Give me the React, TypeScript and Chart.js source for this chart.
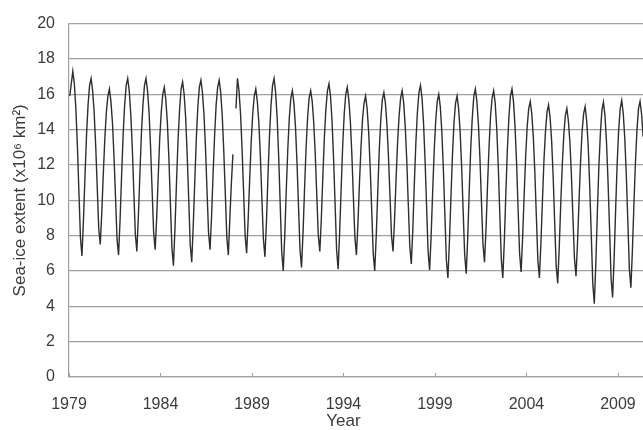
import { useEffect, useRef } from "react";
import { Chart, registerables } from "chart.js";

Chart.register(...registerables);

// Axis setup
const START_YEAR = 1979;
const X_MIN = 1979;
const X_MAX = 2010.37;
const YEAR_TICKS = [1979, 1984, 1989, 1994, 1999, 2004, 2009];
const Y_MIN = 0;
const Y_MAX = 20;
const Y_STEP = 2;
const X_TITLE = "Year";
const Y_TITLE = "Sea-ice extent (x10\u2076 km\u00B2)";

// Monthly Arctic sea-ice extent (10^6 km²), January–December for each year.
// null marks the missing month between the two satellite records.
const MONTHLY_EXTENT: (number | null)[] = [
  /* 1979 */ 15.9, 16.6, 17.3, 16.6, 15.2, 13.1, 10.5, 7.9, 6.85, 8.9, 11.4, 13.7,
  /* 1980 */ 15.4, 16.5, 16.9, 16.2, 15.0, 13.1, 10.8, 8.4, 7.5, 9.3, 11.5, 13.5,
  /* 1981 */ 15.0, 15.9, 16.3, 15.6, 14.4, 12.5, 10.2, 7.8, 6.9, 8.9, 11.4, 13.7,
  /* 1982 */ 15.4, 16.5, 16.9, 16.2, 14.9, 13.0, 10.5, 8.1, 7.1, 9.1, 11.5, 13.8,
  /* 1983 */ 15.4, 16.5, 16.9, 16.2, 15.0, 13.0, 10.6, 8.2, 7.2, 9.0, 11.3, 13.5,
  /* 1984 */ 15.0, 16.0, 16.4, 15.7, 14.4, 12.4, 9.8, 7.3, 6.3, 8.4, 11.0, 13.4,
  /* 1985 */ 15.1, 16.3, 16.7, 16.0, 14.7, 12.6, 10.1, 7.5, 6.5, 8.6, 11.1, 13.5,
  /* 1986 */ 15.3, 16.4, 16.8, 16.1, 14.9, 13.0, 10.6, 8.2, 7.2, 9.1, 11.5, 13.7,
  /* 1987 */ 15.4, 16.4, 16.8, 16.1, 14.8, 12.8, 10.4, 7.9, 6.9, 9.0, 11.0, 12.6,
  /* 1988 */ null, 15.2, 16.9, 16.2, 14.9, 12.9, 10.5, 8.0, 7.0, 8.9, 11.2, 13.3,
  /* 1989 */ 14.9, 15.9, 16.3, 15.6, 14.4, 12.5, 10.1, 7.8, 6.8, 8.8, 11.4, 13.7,
  /* 1990 */ 15.4, 16.5, 16.9, 16.1, 14.7, 12.5, 9.8, 7.1, 6.0, 8.0, 10.6, 12.9,
  /* 1991 */ 14.7, 15.8, 16.2, 15.5, 14.2, 12.2, 9.7, 7.2, 6.2, 8.2, 10.7, 13.0,
  /* 1992 */ 14.7, 15.8, 16.2, 15.6, 14.4, 12.6, 10.3, 8.0, 7.1, 9.0, 11.4, 13.6,
  /* 1993 */ 15.2, 16.2, 16.6, 15.9, 14.5, 12.4, 9.8, 7.2, 6.1, 8.2, 10.7, 13.1,
  /* 1994 */ 14.9, 16.0, 16.4, 15.7, 14.5, 12.6, 10.2, 7.9, 6.9, 8.7, 11.0, 13.0,
  /* 1995 */ 14.6, 15.5, 15.9, 15.2, 13.9, 11.9, 9.5, 7.0, 6.0, 8.0, 10.5, 12.9,
  /* 1996 */ 14.6, 15.7, 16.1, 15.5, 14.3, 12.5, 10.3, 8.0, 7.1, 8.9, 11.2, 13.3,
  /* 1997 */ 14.8, 15.8, 16.2, 15.5, 14.2, 12.3, 9.8, 7.4, 6.4, 8.4, 11.0, 13.3,
  /* 1998 */ 15.0, 16.1, 16.5, 15.8, 14.4, 12.3, 9.7, 7.1, 6.05, 8.0, 10.5, 12.8,
  /* 1999 */ 14.5, 15.6, 16.0, 15.3, 13.9, 11.8, 9.2, 6.6, 5.6, 7.7, 10.2, 12.6,
  /* 2000 */ 14.4, 15.5, 15.9, 15.2, 13.9, 11.9, 9.4, 6.9, 5.85, 7.9, 10.6, 13.0,
  /* 2001 */ 14.7, 15.9, 16.3, 15.6, 14.3, 12.4, 9.9, 7.5, 6.5, 8.4, 10.9, 13.1,
  /* 2002 */ 14.8, 15.8, 16.2, 15.5, 14.1, 12.0, 9.3, 6.7, 5.6, 7.7, 10.4, 12.9,
  /* 2003 */ 14.7, 15.9, 16.3, 15.6, 14.2, 12.2, 9.6, 7.0, 5.95, 7.9, 10.3, 12.5,
  /* 2004 */ 14.2, 15.2, 15.6, 14.9, 13.6, 11.6, 9.1, 6.6, 5.6, 7.6, 10.0, 12.3,
  /* 2005 */ 13.9, 15.0, 15.4, 14.7, 13.4, 11.4, 8.8, 6.3, 5.3, 7.3, 9.8, 12.0,
  /* 2006 */ 13.7, 14.8, 15.2, 14.5, 13.3, 11.4, 9.0, 6.7, 5.7, 7.6, 10.0, 12.2,
  /* 2007 */ 13.9, 14.9, 15.3, 14.5, 13.1, 10.8, 8.1, 5.3, 4.15, 6.4, 9.3, 11.9,
  /* 2008 */ 13.8, 15.1, 15.55, 14.8, 13.3, 11.1, 8.4, 5.6, 4.5, 6.7, 9.5, 12.1,
  /* 2009 */ 14.0, 15.2, 15.65, 14.9, 13.5, 11.4, 8.8, 6.1, 5.05, 7.2, 9.8, 12.2,
  /* 2010 */ 14.0, 15.2, 15.6, 14.9, 13.6, 11.7,
];

// Colours and fonts
const FONT_FAMILY = "'Liberation Sans', Arial, sans-serif";
const TEXT_COLOR = "#3c3c3c";
const GRID_COLOR = "#a0a0a0";
const LINE_COLOR = "#2e2e2e";

// Each monthly value is placed at the middle of its month.
const points = MONTHLY_EXTENT.map((v, i) => ({
  x: START_YEAR + i / 12 + 1 / 24,
  y: v,
}));

// Small upward tick marks on the year axis plus the axis title.
const yearAxisDecor = {
  id: "yearAxisDecor",
  afterDraw(chart: any) {
    const { ctx, chartArea, scales } = chart;
    const xs = scales.x;
    ctx.save();
    ctx.strokeStyle = GRID_COLOR;
    ctx.lineWidth = 1;
    for (const t of xs.ticks) {
      const px = Math.round(xs.getPixelForValue(t.value)) + 0.5;
      ctx.beginPath();
      ctx.moveTo(px, chartArea.bottom);
      ctx.lineTo(px, chartArea.bottom - 4);
      ctx.stroke();
    }
    ctx.fillStyle = TEXT_COLOR;
    ctx.font = `17px ${FONT_FAMILY}`;
    ctx.textAlign = "center";
    ctx.textBaseline = "alphabetic";
    ctx.fillText(X_TITLE, xs.getPixelForValue(1994), xs.bottom - 4);
    ctx.restore();
  },
};

export default function App() {
  const canvasRef = useRef<HTMLCanvasElement | null>(null);

  useEffect(() => {
    const canvas = canvasRef.current;
    if (!canvas) return;
    const chart = new Chart(canvas, {
      type: "line",
      data: {
        datasets: [
          {
            data: points as any,
            borderColor: LINE_COLOR,
            borderWidth: 1.4,
            pointRadius: 0,
            tension: 0,
            spanGaps: false,
            fill: false,
          },
        ],
      },
      options: {
        animation: false,
        responsive: false,
        devicePixelRatio: 1,
        layout: { padding: { top: 21, right: 0, bottom: 0, left: 0 } },
        plugins: {
          legend: { display: false },
          tooltip: { enabled: false },
        },
        scales: {
          x: {
            type: "linear",
            min: X_MIN,
            max: X_MAX,
            afterBuildTicks: (axis: any) => {
              axis.ticks = YEAR_TICKS.map((v) => ({ value: v }));
            },
            afterFit: (axis: any) => {
              axis.height = 53;
              axis.paddingLeft = 0;
              axis.paddingRight = 0;
            },
            grid: { display: false },
            border: { display: true, color: GRID_COLOR, width: 1.2 },
            ticks: {
              autoSkip: false,
              maxRotation: 0,
              padding: 10,
              color: TEXT_COLOR,
              font: { family: FONT_FAMILY, size: 16 },
              callback: (v: any) => String(v),
            },
          },
          y: {
            type: "linear",
            min: Y_MIN,
            max: Y_MAX,
            afterFit: (axis: any) => {
              axis.width = 69;
            },
            grid: {
              color: GRID_COLOR,
              lineWidth: 1.2,
              drawTicks: false,
            },
            border: { display: true, color: GRID_COLOR, width: 1.2 },
            ticks: {
              stepSize: Y_STEP,
              padding: 14,
              color: TEXT_COLOR,
              font: { family: FONT_FAMILY, size: 16 },
            },
            title: {
              display: true,
              text: Y_TITLE,
              color: TEXT_COLOR,
              font: { family: FONT_FAMILY, size: 17 },
              padding: { top: 10, bottom: 0 },
            },
          },
        },
      },
      plugins: [yearAxisDecor],
    });
    return () => chart.destroy();
  }, []);

  return (
    <div style={{ position: "fixed", left: 0, top: 0, width: 643, height: 430, background: "#fff" }}>
      <canvas ref={canvasRef} width={643} height={430} style={{ display: "block" }} />
    </div>
  );
}
